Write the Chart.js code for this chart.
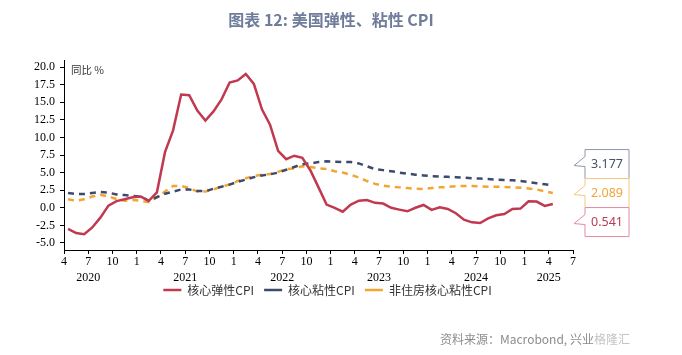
<!DOCTYPE html>
<html><head><meta charset="utf-8">
<script src="https://cdn.jsdelivr.net/npm/chart.js@4.4.1/dist/chart.umd.min.js"></script>
<style>
html,body{margin:0;padding:0;background:#fff;}
#wrap{position:relative;width:682px;height:355px;overflow:hidden;}
#title{position:absolute;left:0;top:9px;width:662px;text-align:center;font:bold 16px/20px "Noto Sans CJK SC","Noto Sans",sans-serif;color:#6f7d9b;z-index:2;}
#src{position:absolute;left:440px;top:331px;font:12px/16px "Noto Sans CJK SC","Noto Sans",sans-serif;color:#8c8c8c;white-space:nowrap;z-index:2;}
#src span{color:#c4c4c4;}
canvas{position:absolute;left:0;top:0;}
</style></head>
<body>
<div id="wrap">
<div id="title">图表 12: 美国弹性、粘性 CPI</div>
<canvas id="c" width="682" height="355"></canvas>
<div id="src">资料来源：Macrobond, 兴业<span>格隆汇</span></div>
</div>
<script>
// Months: Apr 2020 .. Apr 2025
const months = ['2020-04','2020-05','2020-06','2020-07','2020-08','2020-09','2020-10','2020-11','2020-12',
'2021-01','2021-02','2021-03','2021-04','2021-05','2021-06','2021-07','2021-08','2021-09','2021-10','2021-11','2021-12',
'2022-01','2022-02','2022-03','2022-04','2022-05','2022-06','2022-07','2022-08','2022-09','2022-10','2022-11','2022-12',
'2023-01','2023-02','2023-03','2023-04','2023-05','2023-06','2023-07','2023-08','2023-09','2023-10','2023-11','2023-12',
'2024-01','2024-02','2024-03','2024-04','2024-05','2024-06','2024-07','2024-08','2024-09','2024-10','2024-11','2024-12',
'2025-01','2025-02','2025-03','2025-04'];

const elastic = [-3.0,-3.6,-3.75,-2.8,-1.4,0.3,0.95,1.2,1.5,
1.6,1.0,2.2,7.9,11.0,16.1,16.0,13.8,12.4,13.7,15.4,17.8,
18.1,19.0,17.6,14.0,11.8,8.1,6.9,7.4,7.1,5.3,2.9,0.45,
0.0,-0.55,0.45,1.0,1.1,0.7,0.6,0.0,-0.26,-0.5,0.0,0.4,
-0.3,0.07,-0.17,-0.78,-1.7,-2.07,-2.16,-1.5,-1.07,-0.88,-0.17,-0.12,
0.92,0.88,0.26,0.541];

const sticky = [2.1,1.95,1.95,2.1,2.25,2.15,1.9,1.8,1.7,
1.6,1.0,1.5,2.0,2.3,2.6,2.6,2.4,2.35,2.7,3.0,3.3,
3.7,4.0,4.35,4.6,4.75,5.0,5.4,5.8,6.2,6.3,6.5,6.6,
6.55,6.5,6.5,6.3,5.9,5.5,5.35,5.2,5.0,4.85,4.7,4.6,
4.5,4.45,4.4,4.35,4.3,4.2,4.15,4.1,4.0,3.95,3.9,3.8,
3.65,3.5,3.35,3.177];

const stickyExShelter = [1.2,1.0,1.2,1.6,1.85,1.6,1.25,1.0,1.1,
1.0,0.8,1.5,2.3,3.1,3.1,2.8,2.3,2.3,2.6,3.0,3.3,
3.8,4.2,4.5,4.7,4.8,5.1,5.5,5.6,5.9,5.8,5.6,5.5,
5.2,5.0,4.7,4.3,3.8,3.4,3.15,3.0,2.9,2.8,2.7,2.65,
2.8,2.9,2.95,3.05,3.1,3.1,3.05,3.0,3.0,2.95,2.9,2.85,
2.75,2.6,2.35,2.089];

const seriesNames = ['核心弹性CPI','核心粘性CPI','非住房核心粘性CPI'];
const yTicks = [-5,-2.5,0,2.5,5,7.5,10,12.5,15,17.5,20];
const xTickLabels = ['4','7','10','1','4','7','10','1','4','7','10','1','4','7','10','1','4','7','10','1','4','7'];
const yearLabels = ['2020','2021','2022','2023','2024','2025'];
const yearTickIndex = [1,5,9,13,17,20];
const yUnit = '同比 %';

// month index (0 = Apr 2020); points plotted mid-month
const toXY = arr => arr.map((v,i)=>({x:i+0.5,y:v}));

const serif = '"Liberation Serif","DejaVu Serif",serif';
const cjk = '"Noto Sans CJK SC","Noto Sans",sans-serif';

const callouts = [
  {data: sticky, border:'#8e97aa', text:'#44546a'},
  {data: stickyExShelter, border:'#f8c77d', text:'#f0a53a'},
  {data: elastic, border:'#e38ba0', text:'#b63a57'}
];

const extras = {
  id:'extras',
  afterLayout(chart){
    const lg = chart.legend;
    lg.left += 9; lg.right += 9;
    lg.top -= 12; lg.bottom -= 12;
  },
  afterDraw(chart){
    const ctx = chart.ctx, ca = chart.chartArea, ys = chart.scales.y;
    ctx.save();
    ctx.font = '10.5px ' + cjk;
    ctx.fillStyle = '#333';
    ctx.textBaseline = 'middle';
    ctx.textAlign = 'left';
    ctx.fillText(yUnit, ca.left + 7, ca.top + 10);
    // callouts
    const lastVals = callouts.map(c=>c.data[c.data.length-1]);
    const order = lastVals.map((v,i)=>i).sort((a,b)=>lastVals[b]-lastVals[a]);
    const H = 29, W = 44, L = ca.right + 12;
    const midCenter = ys.getPixelForValue(lastVals[order[1]]);
    order.forEach((idx,k)=>{
      const c = callouts[idx];
      const T = midCenter - H/2 + (k-1)*H, B = T + H, R = L + W;
      ctx.beginPath();
      ctx.moveTo(L,T); ctx.lineTo(R,T); ctx.lineTo(R,B); ctx.lineTo(L,B);
      ctx.lineTo(L,T+17); ctx.lineTo(L-11,T+16); ctx.lineTo(L,T+7); ctx.closePath();
      ctx.fillStyle = '#fff'; ctx.fill();
      ctx.lineWidth = 1; ctx.strokeStyle = c.border; ctx.stroke();
      ctx.fillStyle = c.text;
      ctx.font = '12.5px "Noto Sans","Liberation Sans",sans-serif';
      ctx.textAlign = 'center'; ctx.textBaseline = 'middle';
      ctx.fillText(lastVals[idx].toFixed(3), L + W/2, T + H/2 + 0.5);
    });
    ctx.restore();
  }
};

new Chart(document.getElementById('c'), {
  type:'line',
  data:{
    datasets:[
      {label:seriesNames[0], data:toXY(elastic), borderColor:'#c0394f', backgroundColor:'#c0394f', borderWidth:2.5, pointRadius:0, tension:0},
      {label:seriesNames[1], data:toXY(sticky), borderColor:'#3d4a6b', backgroundColor:'#3d4a6b', borderWidth:2.5, borderDash:[6,5], pointRadius:0, tension:0},
      {label:seriesNames[2], data:toXY(stickyExShelter), borderColor:'#f2a531', backgroundColor:'#f2a531', borderWidth:2.5, borderDash:[6,5], pointRadius:0, tension:0}
    ]
  },
  options:{
    responsive:false, animation:false,
    layout:{padding:{left:20,right:109,top:60,bottom:37}},
    plugins:{
      title:{display:false}, tooltip:{enabled:false},
      legend:{
        position:'bottom', fullSize:false,
        labels:{usePointStyle:true, pointStyle:'line', pointStyleWidth:18, padding:10,
          font:{family:cjk, size:12}, color:'#333'}
      }
    },
    scales:{
      x:{
        type:'linear', min:0, max:63,
        afterBuildTicks(s){ s.ticks = xTickLabels.map((_,k)=>({value:k*3})); },
        afterFit(s){ s.height = 36; },
        grid:{drawOnChartArea:false, drawTicks:true, tickLength:4, color:'#000'},
        border:{display:true, color:'#000', width:1},
        ticks:{
          autoSkip:false, maxRotation:0, padding:0, color:'#000',
          font:{family:serif, size:12, lineHeight:1.35},
          callback(v, i){
            const yi = yearTickIndex.indexOf(i);
            return yi >= 0 ? [xTickLabels[i], yearLabels[yi]] : xTickLabels[i];
          }
        }
      },
      y:{
        min:-6, max:21,
        afterBuildTicks(s){ s.ticks = yTicks.map(v=>({value:v})); },
        afterFit(s){ s.width = 44; },
        grid:{drawOnChartArea:false, drawTicks:true, tickLength:4, color:'#000'},
        border:{display:true, color:'#000', width:1},
        ticks:{padding:5, color:'#000', font:{family:serif, size:12},
          callback(v){ return Number(v).toFixed(1); }}
      }
    }
  },
  plugins:[extras]
});
</script>
</body></html>
